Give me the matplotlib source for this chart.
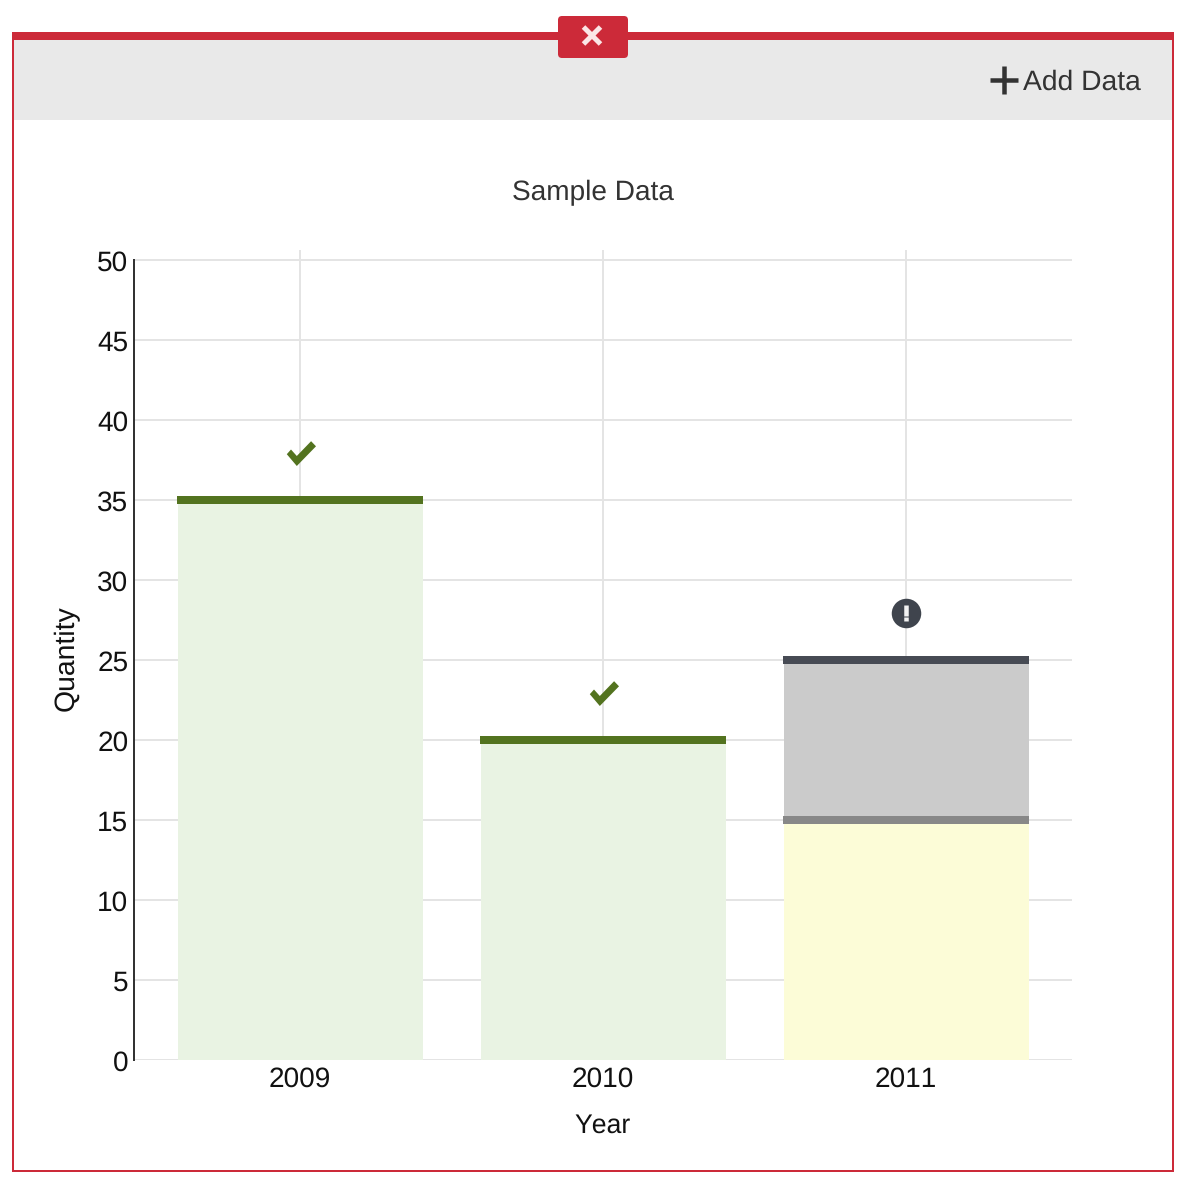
import matplotlib
matplotlib.use("Agg")
import matplotlib.pyplot as plt
from matplotlib.patches import FancyBboxPatch, Rectangle
from matplotlib.path import Path
from matplotlib.transforms import ScaledTranslation

plt.rcParams['font.family'] = ['Liberation Sans', 'DejaVu Sans']
plt.rcParams['text.hinting'] = 'no_hinting'
plt.rcParams['text.kerning_factor'] = 6

years = ['2009', '2010', '2011']
checked_values = [35, 20, 0]
pending_values = [0, 0, 15]
flagged_values = [0, 0, 10]
y_ticks = [0, 5, 10, 15, 20, 25, 30, 35, 40, 45, 50]

RED = '#cc2a39'
GRID = '#e4e4e4'
GREEN = '#53731f'
GREEN_FILL = '#e9f3e3'
YELLOW_FILL = '#fcfcd7'
GRAY_FILL = '#cbcbcb'
GRAY_LINE = '#888888'
SLATE = '#474b54'
TEXT = '#333333'
LABEL = '#111111'

W, H = 1190, 1194
PX = 72 / 100  # points per pixel at dpi 100

fig = plt.figure(figsize=(W / 100, H / 100), dpi=100, facecolor='white')

# panel frame, header strip and close tab, laid out in pixels
frame = fig.add_axes([0, 0, 1, 1], zorder=0)
frame.set_xlim(0, W)
frame.set_ylim(H, 0)
frame.axis('off')
frame.add_patch(Rectangle((13, 36), 1160, 1135, fc='white', ec=RED, lw=2 * PX))
frame.add_patch(Rectangle((14, 40), 1158, 80, fc='#e9e9e9', ec='none'))
frame.add_patch(Rectangle((12, 32), 1162, 8, fc=RED, ec='none'))
frame.add_patch(FancyBboxPatch((561, 19), 64, 36, boxstyle='round,pad=3,rounding_size=4',
                               fc=RED, ec='none'))
frame.plot([583.5, 600.5], [27, 44], color='#fbe6e6', lw=5 * PX, solid_capstyle='butt')
frame.plot([600.5, 583.5], [27, 44], color='#fbe6e6', lw=5 * PX, solid_capstyle='butt')
frame.plot([990, 1018], [79.5, 79.5], color=TEXT, lw=4.5 * PX, solid_capstyle='butt')
frame.plot([1004, 1004], [65.5, 93.5], color=TEXT, lw=4.5 * PX, solid_capstyle='butt')
frame.text(1023, 82, 'Add Data', fontsize=20.3, color=TEXT, va='center', ha='left')
frame.text(593, 193, 'Sample Data', fontsize=20.2, color=TEXT, va='center', ha='center')

# chart area
left, right, top, bottom = 134, 1072, 250, 1060
ax = fig.add_axes([left / W, 1 - bottom / H, (right - left) / W, (bottom - top) / H],
                  zorder=1)
ax.patch.set_alpha(0)
positions = list(range(len(years)))
step = 303
ax.set_xlim((left - 300) / step, (right - 300) / step)
ax.set_ylim(0, 50 + 10 / 16)

bar_w = 245 / step
line_w = 246 / step
ax.bar(positions, checked_values, width=bar_w, color=GREEN_FILL, zorder=2)
ax.bar(positions, pending_values, width=bar_w, color=YELLOW_FILL, zorder=2)
ax.bar(positions, flagged_values, bottom=pending_values, width=bar_w,
       color=GRAY_FILL, zorder=2)


def top_line(x, value, color):
    ax.plot([x - line_w / 2, x + line_w / 2], [value, value], color=color,
            lw=8 * PX, solid_capstyle='butt', zorder=3, clip_on=False)


# tick glyph outline, y pointing up
check = Path([(-13.7, -0.7), (-9.5, 4.0), (-3.7, -2.5), (10.6, 12.3),
              (15.5, 7.2), (-3.7, -12.5), (-13.7, -0.7)], closed=True)

ICON_OFFSET = 2.95
for i, x in enumerate(positions):
    if checked_values[i]:
        top_line(x, checked_values[i], GREEN)
        ax.plot([x], [checked_values[i] + ICON_OFFSET], marker=check, ms=31 * PX,
                color=GREEN, mew=0, zorder=4, ls='none')
    if pending_values[i]:
        top_line(x, pending_values[i], GRAY_LINE)
    if flagged_values[i]:
        total = pending_values[i] + flagged_values[i]
        cy = total + ICON_OFFSET
        top_line(x, total, SLATE)
        ax.plot([x], [cy], marker='o', ms=29.5 * PX, color='#3f444d', mew=0, zorder=4)
        ax.plot([x, x], [cy - 2.7 / 16, cy + 8.3 / 16], color='#f2f2f2',
                lw=4.5 * PX, solid_capstyle='butt', zorder=5)
        ax.plot([x, x], [cy - 8 / 16, cy - 4 / 16], color='#f2f2f2',
                lw=4.5 * PX, solid_capstyle='butt', zorder=5)

ax.set_yticks(y_ticks)
ax.set_xticks(positions)
ax.set_xticklabels(years)
ax.tick_params(axis='both', length=0, labelsize=20.2, labelcolor=LABEL)
ax.tick_params(axis='x', pad=4.5)
ax.tick_params(axis='y', pad=4)
# nudge the value labels down onto their gridlines
nudge = ScaledTranslation(0, -0.4 / 100, fig.dpi_scale_trans)
for label in ax.get_yticklabels():
    label.set_transform(label.get_transform() + nudge)
ax.grid(True, color=GRID, lw=2 * PX, zorder=1)
ax.set_axisbelow(True)
for side in ['top', 'right', 'bottom']:
    ax.spines[side].set_visible(False)
ax.spines['left'].set_color('#333333')
ax.spines['left'].set_linewidth(2 * PX)
ax.spines['left'].set_bounds(0, 50)

frame.text(67, 658, 'Quantity', fontsize=20.4, color=LABEL, rotation=90,
           va='center', ha='center')
frame.text(603, 1126, 'Year', fontsize=19.2, color=LABEL, va='center', ha='center')

fig.savefig('out.png', dpi=100)
